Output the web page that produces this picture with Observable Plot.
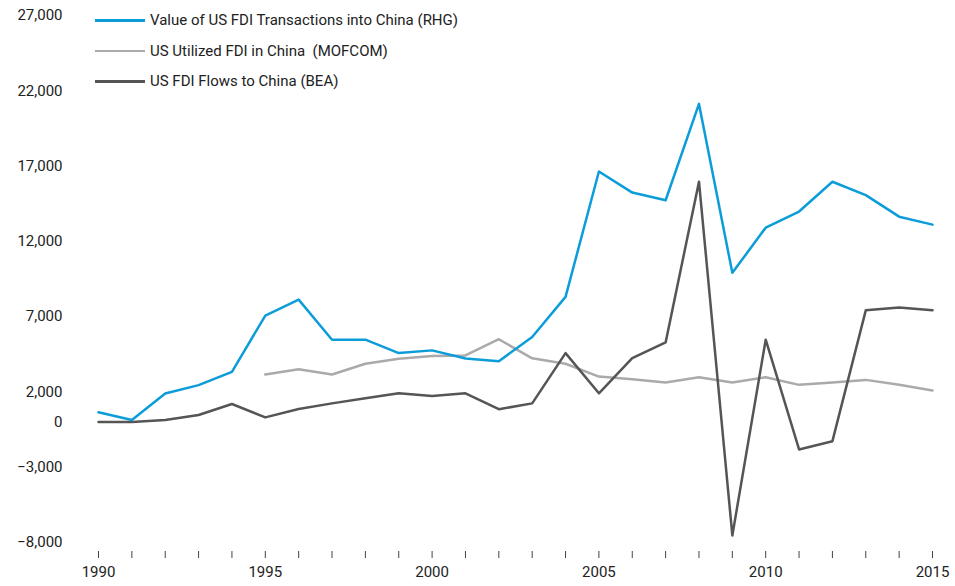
<!DOCTYPE html>
<html>
<head>
<meta charset="utf-8">
<script src="https://cdn.jsdelivr.net/npm/d3@7"></script>
<script src="https://cdn.jsdelivr.net/npm/@observablehq/plot@0.6"></script>
<style>
  html, body { margin: 0; padding: 0; background: #fff; }
  #wrap { position: relative; width: 955px; height: 586px; font-family: Roboto, "Noto Sans", sans-serif; }
  #legend { position: absolute; left: 95px; top: 5px; }
  .item { display: flex; align-items: center; height: 30.5px; font-size: 15px; color: #222; }
  .swatch { width: 50px; height: 2.5px; margin-right: 5px; }
</style>
</head>
<body>
<div id="wrap"><div id="chart"></div><div id="legend"></div></div>
<script>
const years = d3.range(1990, 2016);
const seriesNames = [
  "Value of US FDI Transactions into China (RHG)",
  "US Utilized FDI in China  (MOFCOM)",
  "US FDI Flows to China (BEA)"
];
const colors = ["#0c9dd9", "#aaaaaa", "#555555"];
// RHG 1990-2015
const rhg = [650, 130, 1900, 2450, 3330, 7070, 8130, 5470, 5470, 4580, 4760, 4220, 4040,
  5650, 8310, 16640, 15240, 14730, 21130, 9910, 12910, 13980, 15960, 15070, 13640, 13110];
// MOFCOM 1995-2015
const mofcomYears = d3.range(1995, 2016);
const mofcom = [3160, 3510, 3160, 3870, 4200, 4380, 4420, 5500, 4230, 3870, 3020, 2840, 2620,
  2980, 2620, 2980, 2470, 2620, 2800, 2470, 2090];
// BEA 1990-2015
const bea = [0, 0, 130, 470, 1200, 310, 870, 1240, 1580, 1910, 1730, 1910, 850,
  1240, 4580, 1910, 4240, 5290, 15960, -7530, 5470, -1820, -1270, 7420, 7600, 7420];
const yTicks = [27000, 22000, 17000, 12000, 7000, 2000, 0, -3000, -8000];

const data = [
  ...years.map((y, i) => ({year: y, value: rhg[i], series: seriesNames[0]})),
  ...mofcomYears.map((y, i) => ({year: y, value: mofcom[i], series: seriesNames[1]})),
  ...years.map((y, i) => ({year: y, value: bea[i], series: seriesNames[2]}))
];

const chart = Plot.plot({
  width: 955,
  height: 586,
  marginLeft: 98,
  marginRight: 23,
  marginTop: 15,
  marginBottom: 44,
  style: {fontFamily: "Roboto, 'Noto Sans', sans-serif", fontSize: "15px", color: "#222", background: "#fff"},
  x: {domain: [1990, 2015]},
  y: {domain: [-8000, 27000]},
  color: {domain: seriesNames, range: colors},
  marks: [
    Plot.axisY({ticks: yTicks, tickSize: 0, tickPadding: 36, tickFormat: d => d3.format(",")(d), label: null, fontSize: 15}),
    Plot.axisX({ticks: years, tickSize: 7, tickPadding: 8, dy: 9, tickFormat: d => d % 5 === 0 ? String(d) : "", label: null, fontSize: 15, stroke: "#444"}),
    Plot.lineY(data.filter(d => d.series === seriesNames[1]), {x: "year", y: "value", stroke: "series", strokeWidth: 2.5}),
    Plot.lineY(data.filter(d => d.series === seriesNames[2]), {x: "year", y: "value", stroke: "series", strokeWidth: 2.5}),
    Plot.lineY(data.filter(d => d.series === seriesNames[0]), {x: "year", y: "value", stroke: "series", strokeWidth: 2.5})
  ]
});
document.getElementById("chart").appendChild(chart);

const legend = document.getElementById("legend");
seriesNames.forEach((name, i) => {
  const item = document.createElement("div");
  item.className = "item";
  const sw = document.createElement("span");
  sw.className = "swatch";
  sw.style.background = colors[i];
  const label = document.createElement("span");
  label.textContent = name;
  label.style.whiteSpace = "pre";
  item.appendChild(sw);
  item.appendChild(label);
  legend.appendChild(item);
});
</script>
</body>
</html>
